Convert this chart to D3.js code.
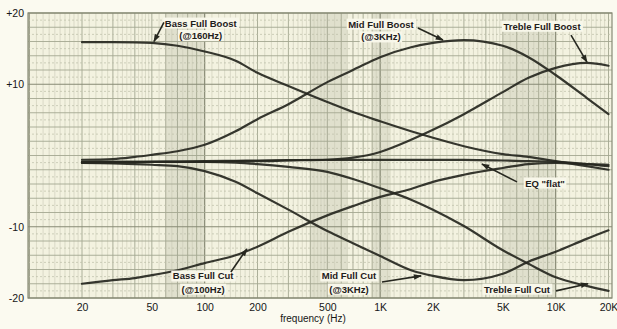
<!DOCTYPE html>
<html><head><meta charset="utf-8">
<script src="https://cdn.jsdelivr.net/npm/d3@7"></script>
<style>
html,body{margin:0;padding:0;background:#fbfaf0;}
svg{display:block;font-family:"Liberation Sans",Arial,Helvetica,sans-serif;}
</style></head>
<body><svg id="chart" width="617" height="329"></svg>
<script>
// ---- data ----
const freqs = [20,30,40,50,70,100,150,200,300,500,700,1000,1500,2000,3000,5000,7000,10000,15000,20000];
const bassBoost   = [15.9,15.9,15.88,15.8,15.4,14.6,13.3,11.6,9.75,7.5,6.1,4.8,3.4,2.5,1.3,0.2,-0.2,-0.8,-1.5,-2.0];
const midBoost    = [-0.6,-0.5,-0.2,0.1,0.6,1.5,3.4,5.1,7.2,10.3,12.0,13.8,15.2,15.8,16.2,15.4,13.8,11.3,8.1,5.8];
const trebleBoost = [-0.9,-0.9,-0.9,-0.9,-0.9,-0.9,-0.8,-0.8,-0.7,-0.6,-0.3,0.5,2.2,3.6,5.8,8.9,10.9,12.3,13.0,12.6];
const eqFlat      = [-1.05,-1.0,-0.95,-0.9,-0.85,-0.8,-0.75,-0.7,-0.65,-0.6,-0.6,-0.6,-0.6,-0.6,-0.6,-0.7,-0.8,-0.9,-1.2,-1.5];
const bassCut     = [-18.0,-17.5,-17.2,-16.8,-16.1,-15.1,-14.0,-12.8,-10.7,-8.4,-7.1,-5.8,-4.7,-3.7,-2.7,-1.75,-1.2,-1.05,-1.2,-1.3];
const midCut      = [-1.05,-1.1,-1.2,-1.3,-1.5,-2.2,-3.7,-5.3,-7.6,-10.6,-12.3,-14.1,-16.1,-16.9,-17.5,-16.6,-14.9,-13.5,-11.7,-10.5];
const trebleCut   = [-0.9,-0.9,-0.9,-0.9,-0.9,-0.9,-1.0,-1.2,-1.6,-2.3,-3.3,-4.6,-6.2,-7.6,-9.9,-13.3,-15.2,-17.1,-18.3,-19.0];

const xTickValues = [20,50,100,200,500,1000,2000,5000,10000,20000];
const xTickLabels = ["20","50","100","200","500","1K","2K","5K","10K","20K"];
const yTickValues = [20,10,-10,-20];
const yTickLabels = ["+20","+10","-10","-20"];
const xTitle = "frequency (Hz)";

// annotations: text lines, text anchor (freq, dB), arrow from -> to (freq, dB)
const annotations = [
  {lines:["Bass Full Boost","(@160Hz)"], f:95, db:[18.45,16.7], a:[58.6,18.7], b:[51.4,16.0]},
  {lines:["Mid Full Boost","(@3KHz)"], f:1010, db:[18.3,16.5], a:[1640,17.9], b:[2280,16.2]},
  {lines:["Treble Full Boost"], f:8360, db:[18.0], a:[12230,16.9], b:[15080,13.1]},
  {lines:["EQ \"flat\""], f:8700, db:[-4.0], a:[6020,-3.7], b:[3800,-1.2]},
  {lines:["Bass Full Cut","(@100Hz)"], f:98, db:[-17.05,-18.9], a:[141,-16.35], b:[174,-13.1]},
  {lines:["Mid Full Cut","(@3KHz)"], f:664, db:[-17.05,-18.9], a:[1024,-17.75], b:[1710,-16.9]},
  {lines:["Treble Full Cut"], f:6020, db:[-18.9], a:[10040,-19.0], b:[15290,-18.0]}
];

const series = [bassBoost, midBoost, trebleBoost, eqFlat, bassCut, midCut, trebleCut];

// ---- scales ----
const svg = d3.select("#chart");
const x = d3.scaleLog().domain([20,20000]).range([82,608.5]);
const y = d3.scaleLinear().domain([-20,20]).range([298,13]);
const pL = 28, pR = 612, pT = 13, pB = 298;

// paper
svg.append("rect").attr("x",pL).attr("y",pT).attr("width",pR-pL).attr("height",pB-pT)
  .attr("fill","#f3f2e0");

// shaded bands
const bands = [[60,100],[400,650],[900,1150],[5000,10000]];
svg.append("g").selectAll("rect").data(bands).join("rect")
  .attr("x",d=>x(d[0])).attr("width",d=>x(d[1])-x(d[0]))
  .attr("y",pT).attr("height",pB-pT)
  .attr("fill","#c9cab5").attr("opacity",0.45);

// vertical grid
const grid = svg.append("g");
const vMinor = [], vMajor = [], vDecade = [];
[10,100,1000,10000].forEach(d=>{
  for(let m=1;m<9.99;m+= (m<1.99?0.1:(m<4.99?0.2:0.5))){
    const mr = Math.round(m*10)/10;
    const v = d*mr;
    if (mr===1) vDecade.push(v);
    else if (Number.isInteger(mr)) vMajor.push(v);
    else vMinor.push(v);
  }
});
vDecade.push(100000);
function vlines(vals, col, w){
  grid.append("g").selectAll("line").data(vals.filter(v=>x(v)>=pL && x(v)<=pR)).join("line")
    .attr("x1",d=>x(d)).attr("x2",d=>x(d)).attr("y1",pT).attr("y2",pB)
    .attr("stroke",col).attr("stroke-width",w);
}
vlines(vMinor,"#c9cab6",0.6);
vlines(vMajor,"#a4a791",0.9);
vlines(vDecade,"#878a75",1.2);

// horizontal grid
const hMinor=[],hMid=[],hMajor=[];
for(let v=-20; v<=20; v+=1){
  if (v!==0 && v%10===0) hMajor.push(v); else if (v%2===0) hMid.push(v); else hMinor.push(v);
}
function hlines(vals,col,w,dash){
  grid.append("g").selectAll("line").data(vals).join("line")
    .attr("x1",pL).attr("x2",pR).attr("y1",d=>y(d)).attr("y2",d=>y(d))
    .attr("stroke",col).attr("stroke-width",w).attr("stroke-dasharray",dash||null);
}
hlines(hMinor,"#bbbda8",0.7,"2,2");
hlines(hMid,"#a4a791",0.9);
hlines(hMajor,"#878a75",1.2);

svg.append("rect").attr("x",pL).attr("y",pT).attr("width",pR-pL).attr("height",pB-pT)
  .attr("fill","none").attr("stroke","#878a75").attr("stroke-width",1.2);

// curves
const line = d3.line().x((d,i)=>x(freqs[i])).y(d=>y(d)).curve(d3.curveMonotoneX);
svg.append("g").selectAll("path").data(series).join("path")
  .attr("d",line).attr("fill","none").attr("stroke","#26271f").attr("stroke-width",2.2)
  .attr("stroke-linecap","round").attr("opacity",0.92);

// annotations
svg.append("defs").append("marker").attr("id","ah").attr("viewBox","0 0 10 10")
  .attr("refX",9).attr("refY",5).attr("markerWidth",7).attr("markerHeight",5).attr("orient","auto")
  .append("path").attr("d","M0,1.5L10,5L0,8.5Z").attr("fill","#26271f");
const ag = svg.append("g");
annotations.forEach(a=>{
  const g = ag.append("g");
  const texts = a.lines.map((t,i)=>g.append("text").attr("x",x(a.f)).attr("y",y(a.db[i]))
    .attr("text-anchor","middle").attr("dominant-baseline","middle")
    .attr("font-size",9.5).attr("font-weight","bold").attr("fill","#1f201b").text(t));
  texts.forEach(t=>{
    const bb = t.node().getBBox();
    g.insert("rect","text").attr("x",bb.x-1.5).attr("y",bb.y).attr("width",bb.width+3).attr("height",bb.height)
      .attr("fill","#f8f7ea");
  });
  g.append("line").attr("x1",x(a.a[0])).attr("y1",y(a.a[1])).attr("x2",x(a.b[0])).attr("y2",y(a.b[1]))
    .attr("stroke","#26271f").attr("stroke-width",1.6).attr("marker-end","url(#ah)");
});

// axes
const xAxis = d3.axisBottom(x).tickValues(xTickValues).tickFormat((d,i)=>xTickLabels[i]).tickSize(0).tickPadding(6);
const gx = svg.append("g").attr("transform",`translate(0,${pB})`).call(xAxis);
gx.select(".domain").remove();
gx.selectAll("text").attr("font-size",10.5).attr("fill","#161616").attr("font-family","Liberation Sans, Arial, sans-serif");

const yAxis = d3.axisLeft(y).tickValues(yTickValues).tickFormat((d,i)=>yTickLabels[i]).tickSize(0).tickPadding(4);
const gy = svg.append("g").attr("transform",`translate(${pL},0)`).call(yAxis);
gy.select(".domain").remove();
gy.selectAll("text").attr("font-size",10.5).attr("fill","#161616").attr("font-family","Liberation Sans, Arial, sans-serif");

svg.append("text").attr("x",313).attr("y",322).attr("text-anchor","middle")
  .attr("font-size",10).attr("fill","#161616").text(xTitle);
</script></body></html>
